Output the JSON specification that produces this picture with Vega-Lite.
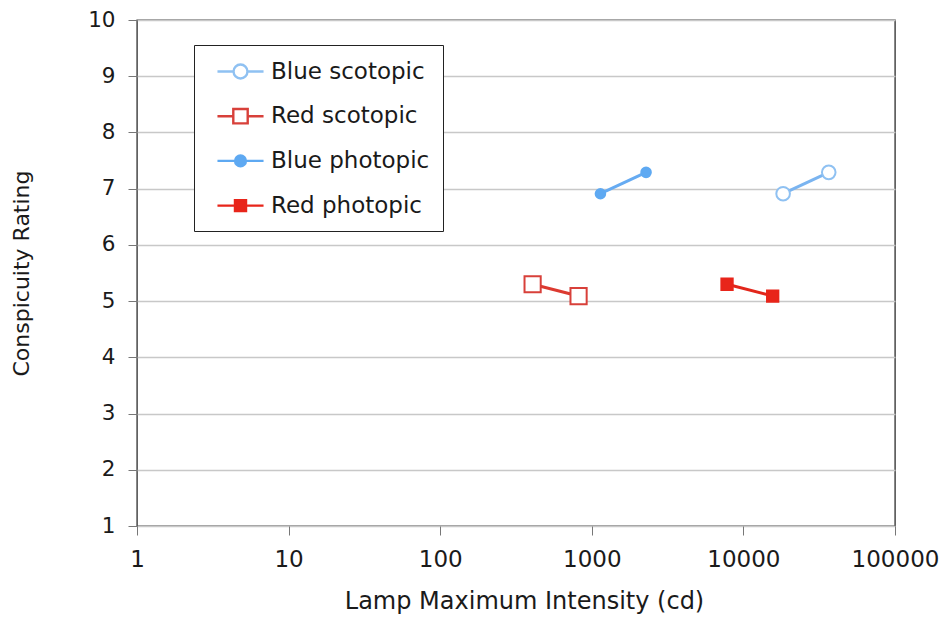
{
  "$schema": "https://vega.github.io/schema/vega-lite/v6.json",
  "width": 758,
  "height": 506,
  "autosize": {"type": "none"},
  "padding": {"left": 137, "top": 20, "right": 50, "bottom": 98},
  "background": "white",
  "config": {
    "font": "DejaVu Sans",
    "view": {"stroke": "#3a3a3a", "strokeWidth": 1.4},
    "axis": {"labelFont": "DejaVu Sans", "titleFont": "DejaVu Sans", "labelColor": "#1a1a1a", "titleColor": "#1a1a1a", "titleFontWeight": "normal", "tickColor": "#777", "tickSize": 9, "domain": false}
  },
  "data": {
    "values": [
      {"series": "Blue scotopic", "x": 18280, "y": 6.91},
      {"series": "Blue scotopic", "x": 36560, "y": 7.29},
      {"series": "Red scotopic", "x": 407, "y": 5.3},
      {"series": "Red scotopic", "x": 818, "y": 5.09},
      {"series": "Blue photopic", "x": 1140, "y": 6.91},
      {"series": "Blue photopic", "x": 2280, "y": 7.29},
      {"series": "Red photopic", "x": 7800, "y": 5.3},
      {"series": "Red photopic", "x": 15600, "y": 5.09}
    ]
  },
  "encoding": {
    "x": {"field": "x", "type": "quantitative", "title": "Lamp Maximum Intensity (cd)",
      "scale": {"type": "log", "domain": [1, 100000], "nice": false},
      "axis": {"values": [1, 10, 100, 1000, 10000, 100000], "format": "d", "grid": false, "labelFontSize": 23, "titleFontSize": 24, "labelPadding": 13, "titlePadding": 18, "titleX": 387, "labelFlush": false}},
    "y": {"field": "y", "type": "quantitative", "title": "Conspicuity Rating",
      "scale": {"domain": [1, 10], "nice": false, "zero": false},
      "axis": {"values": [1, 2, 3, 4, 5, 6, 7, 8, 9, 10], "grid": true, "gridColor": "#c8c8c8", "gridWidth": 1.5, "labelFontSize": 21.5, "titleFontSize": 22, "labelPadding": 13, "titlePadding": 54}}
  },
  "layer": [
    {
      "mark": {"type": "line", "strokeWidth": 3},
      "encoding": {
        "detail": {"field": "series"},
        "stroke": {"field": "series", "type": "nominal", "legend": null,
          "scale": {"domain": ["Blue scotopic", "Red scotopic", "Blue photopic", "Red photopic"], "range": ["#7ab4f0", "#dc3a30", "#66abf2", "#e2261b"]}}
      }
    },
    {
      "mark": {"type": "point", "filled": true, "strokeWidth": 2, "opacity": 1},
      "encoding": {
        "shape": {"field": "series", "type": "nominal", "legend": null,
          "scale": {"domain": ["Blue scotopic", "Red scotopic", "Blue photopic", "Red photopic"], "range": ["circle", "square", "circle", "square"]}},
        "size": {"field": "series", "type": "nominal", "legend": null,
          "scale": {"type": "ordinal", "domain": ["Blue scotopic", "Red scotopic", "Blue photopic", "Red photopic"], "range": [185, 262, 92, 128]}},
        "stroke": {"field": "series", "type": "nominal", "legend": null,
          "scale": {"domain": ["Blue scotopic", "Red scotopic", "Blue photopic", "Red photopic"], "range": ["#8fc1f2", "#d8403a", "#5ea9f2", "#e8251a"]}},
        "fill": {"field": "series", "type": "nominal", "legend": null,
          "scale": {"domain": ["Blue scotopic", "Red scotopic", "Blue photopic", "Red photopic"], "range": ["#ffffff", "#ffffff", "#5ea9f2", "#e8251a"]}}
      }
    },
    {
      "mark": {"type": "point", "filled": true, "opacity": 0, "strokeWidth": 2.5},
      "encoding": {
        "shape": {"field": "series", "type": "nominal", "title": null,
          "scale": {"domain": ["Blue scotopic", "Red scotopic", "Blue photopic", "Red photopic"],
            "range": [
              "M-1.92,0H-0.58M0.58,0H1.92M-0.58,0A0.58,0.58 0 1,1 0.58,0A0.58,0.58 0 1,1 -0.58,0Z",
              "M-1.92,0H-0.6M0.6,0H1.92M-0.6,-0.6H0.6V0.6H-0.6Z",
              "M-1.92,0H-0.45M0.45,0H1.92M-0.45,0A0.45,0.45 0 1,1 0.45,0A0.45,0.45 0 1,1 -0.45,0Z",
              "M-1.92,0H-0.46M0.46,0H1.92M-0.46,-0.46H0.46V0.46H-0.46Z"
            ]},
          "legend": {"orient": "none", "legendX": 57, "legendY": 25, "strokeColor": "#222", "fillColor": "white", "padding": 13, "symbolSize": 576, "symbolOffset": 20, "symbolStrokeWidth": 2.4, "symbolOpacity": 1, "labelFontSize": 23, "labelFont": "DejaVu Sans", "labelColor": "#1a1a1a", "rowPadding": 18.7, "labelOffset": 17, "symbolLimit": 0}},
        "stroke": {"field": "series", "type": "nominal", "title": null,
          "scale": {"domain": ["Blue scotopic", "Red scotopic", "Blue photopic", "Red photopic"], "range": ["#8fc1f2", "#d8403a", "#5ea9f2", "#e8251a"]}},
        "fill": {"field": "series", "type": "nominal", "title": null,
          "scale": {"domain": ["Blue scotopic", "Red scotopic", "Blue photopic", "Red photopic"], "range": ["#ffffff", "#ffffff", "#5ea9f2", "#e8251a"]}}
      }
    }
  ],
  "resolve": {"scale": {"stroke": "independent", "fill": "independent", "shape": "independent", "size": "independent"}, "legend": {"shape": "independent", "stroke": "independent", "fill": "independent"}}
}
